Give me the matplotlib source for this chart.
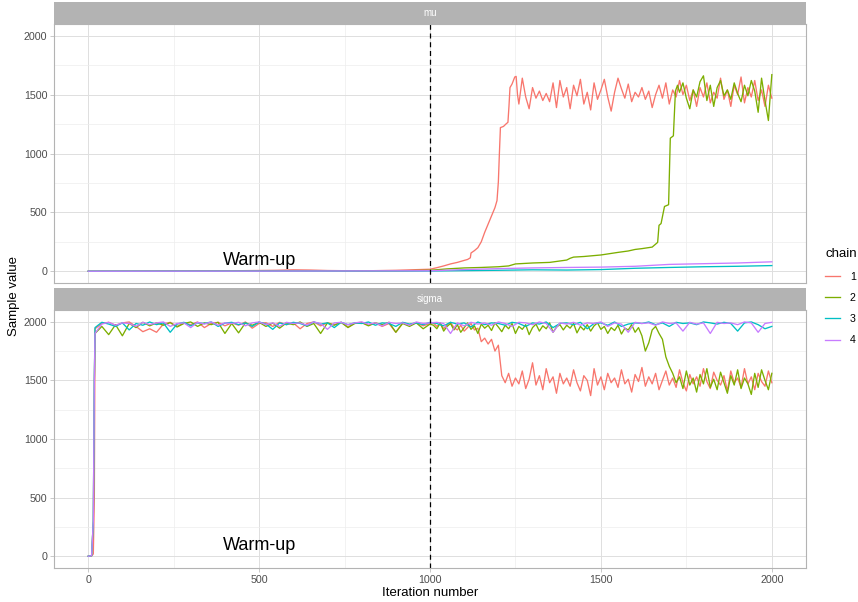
import numpy as np
import matplotlib
matplotlib.use('Agg')
import matplotlib.pyplot as plt
from matplotlib.patches import Rectangle

plt.rcParams['font.family'] = ['Liberation Sans', 'DejaVu Sans']

chains = ['1', '2', '3', '4']
colors = ['#F8766D', '#7CAE00', '#00BFC4', '#C77CFF']
params = ['mu', 'sigma']

# ---- mu traces ----
mu1_it = [0, 200, 400, 550, 600, 650, 700, 800, 900, 1000,
          1020, 1040, 1060, 1080, 1100, 1110, 1118, 1120, 1130, 1140,
          1150, 1160, 1170, 1180, 1190, 1196, 1200, 1203, 1206, 1215,
          1222, 1228, 1231, 1234, 1240, 1248, 1252, 1256]
mu1_head = [0, 1, 3, 8, 12, 10, 6, 3, 8, 17,
            30, 45, 62, 75, 92, 100, 114, 155, 175, 200,
            250, 330, 400, 470, 540, 600, 760, 1000, 1220, 1230,
            1250, 1265, 1400, 1560, 1590, 1650, 1655, 1500]
# every 10 iterations from 1260 to 2000
mu1_tail = [1420, 1640, 1480, 1380, 1560, 1470, 1530, 1450, 1510, 1440,
            1600, 1390, 1620, 1480, 1560, 1380, 1580, 1490, 1630, 1420,
            1520, 1370, 1600, 1460, 1540, 1630, 1480, 1360, 1520, 1640,
            1550, 1470, 1590, 1440, 1520, 1480, 1560, 1460, 1530, 1390,
            1500, 1580, 1470, 1600, 1420, 1540, 1480, 1620, 1500, 1580,
            1450, 1540, 1400, 1560, 1480, 1600, 1430, 1520, 1470, 1640,
            1460, 1540, 1400, 1580, 1500, 1650, 1430, 1560, 1480, 1620,
            1450, 1540, 1400, 1580, 1470]

mu2_it = [0, 500, 900, 1000, 1050, 1100, 1150, 1200, 1230, 1250,
          1300, 1350, 1400, 1410, 1420, 1450, 1500, 1550, 1580, 1600,
          1620, 1650, 1660, 1666, 1670, 1676, 1686, 1698, 1703, 1712,
          1718, 1724]
mu2_head = [0, 2, 3, 8, 20, 28, 32, 38, 45, 62,
            70, 75, 95, 110, 120, 125, 138, 160, 172, 185,
            192, 205, 230, 245, 390, 405, 550, 565, 1130, 1150,
            1530, 1580]
# every 10 iterations from 1730 to 2000
mu2_tail = [1520, 1600, 1470, 1380, 1540, 1480, 1610, 1660, 1450, 1580,
            1400, 1560, 1620, 1490, 1540, 1460, 1600, 1510, 1440, 1580,
            1490, 1620, 1530, 1350, 1640, 1450, 1280, 1670]

mu34_it = [0, 500, 1000, 1100, 1200, 1300, 1400, 1500, 1600, 1700, 1800, 1900, 2000]
mu3 = [0, 1, 2, 5, 8, 12, 10, 14, 25, 32, 38, 42, 48]
mu4 = [0, 1, 4, 14, 22, 28, 32, 35, 42, 58, 64, 70, 80]

# ---- sigma traces ----
ramp_it = [0, 10, 15, 18]
sig1_ramp = [0, 2, 20, 500]
sig_ramp = [0, 5, 300, 1500]

# chains 1 and 2: every 20 iterations 20..1000, then every 10 iterations 1010..2000
sig1 = [1940, 1985, 1995, 1970, 1990, 1998, 1960, 1915, 1940, 1910,
        1980, 1995, 1960, 1990, 1975, 1998, 1950, 1985, 1995, 1965,
        1990, 1970, 1998, 1945, 1985, 1992, 1960, 1995, 1975, 1990,
        1940, 1985, 1998, 1965, 1990, 1975, 1995, 1955, 1988, 1996,
        1970, 1990, 1960, 1985, 1910, 1992, 1975, 1990, 1965, 1985,
        # 1010..2000
        1990, 1960, 1985, 1940, 1975, 1995, 1950, 1930, 1970, 1920,
        1950, 1985, 1930, 1945, 1830, 1860, 1810, 1850, 1750, 1800,
        1540, 1480, 1560, 1450, 1520, 1470, 1580, 1430, 1510, 1650,
        1460, 1540, 1420, 1600, 1480, 1530, 1390, 1560, 1470, 1520,
        1450, 1590, 1480, 1410, 1540, 1500, 1370, 1600, 1460, 1530,
        1420, 1560, 1480, 1520, 1440, 1590, 1470, 1510, 1400, 1550,
        1490, 1610, 1450, 1530, 1470, 1560, 1420, 1500, 1580, 1460,
        1520, 1440, 1590, 1480, 1410, 1550, 1470, 1530, 1450, 1600,
        1490, 1430, 1570, 1500, 1460, 1540, 1410, 1580, 1480, 1520,
        1440, 1600, 1470, 1530, 1420, 1560, 1490, 1450, 1580, 1480]

sig2 = [1900, 1960, 1890, 1975, 1880, 1985, 1950, 1995, 1965, 1990,
        1970, 1992, 1955, 1985, 1998, 1960, 1990, 1975, 1995, 1900,
        1985, 1905, 1990, 1970, 1995, 1960, 1988, 1945, 1990, 1975,
        1998, 1960, 1985, 1900, 1990, 1970, 1995, 1950, 1985, 1992,
        1965, 1990, 1975, 1995, 1910, 1985, 1960, 1990, 1940, 1980,
        # 1010..2000
        1970, 1940, 1990, 1920, 1960, 1985, 1930, 1975, 1910, 1950,
        1990, 1935, 1965, 1900, 1980, 1945, 1970, 1925, 1990, 1955,
        1915, 1970, 1940, 1985, 1900, 1960, 1935, 1975, 1890, 1950,
        1980, 1920, 1965, 1940, 1990, 1910, 1955, 1975, 1930, 1970,
        1945, 1985, 1905, 1960, 1930, 1975, 1920, 1965, 1990, 1935,
        1960, 1900, 1950, 1925, 1970, 1895, 1945, 1930, 1975, 1910,
        1950, 1880, 1750, 1820, 1930, 1960, 1900, 1850, 1700, 1620,
        1560, 1480, 1530, 1430, 1580, 1460, 1520, 1400, 1550, 1470,
        1600, 1440, 1510, 1420, 1570, 1480, 1390, 1540, 1460, 1590,
        1430, 1520, 1470, 1380, 1560, 1440, 1590, 1500, 1420, 1560]

# chains 3 and 4: every 20 iterations 20..2000
sig3 = [1950, 1995, 1980, 1960, 1990, 1930, 1985, 1970, 1998, 1975,
        1990, 1910, 1980, 1995, 1965, 1990, 1985, 1998, 1960, 1988,
        1995, 1975, 1990, 1960, 1998, 1980, 1935, 1990, 1975, 1995,
        1985, 1965, 1998, 1980, 1990, 1950, 1995, 1975, 1990, 1985,
        1998, 1970, 1990, 1985, 1960, 1995, 1980, 1990, 1975, 1995,
        1985, 1965, 1995, 1980, 1990, 1955, 1998, 1975, 1990, 1985,
        1970, 1995, 1985, 1960, 1990, 1980, 1998, 1950, 1985, 1990,
        1975, 1995, 1940, 1985, 1990, 1970, 1998, 1960, 1980, 1990,
        1985, 1998, 1975, 1990, 1960, 1995, 1985, 1990, 1975, 1998,
        1990, 1980, 1995, 1985, 1920, 1990, 1998, 1975, 1940, 1960]

sig4 = [1900, 1980, 1995, 1970, 1990, 1985, 1960, 1995, 1975, 1990,
        1998, 1960, 1985, 1990, 1950, 1995, 1980, 1998, 1970, 1990,
        1985, 1995, 1965, 1990, 1998, 1975, 1990, 1960, 1995, 1985,
        1990, 1970, 1998, 1985, 1935, 1990, 1995, 1975, 1990, 1998,
        1980, 1990, 1965, 1995, 1985, 1990, 1970, 1998, 1985, 1990,
        1995, 1985, 1900, 1990, 1965, 1995, 1980, 1990, 1970, 1998,
        1985, 1960, 1995, 1990, 1975, 1998, 1985, 1910, 1990, 1980,
        1995, 1970, 1990, 1985, 1998, 1960, 1990, 1980, 1910, 1995,
        1985, 1990, 1970, 1998, 1985, 1990, 1920, 1995, 1980, 1990,
        1900, 1995, 1985, 1990, 1975, 1998, 1990, 1910, 1985, 1995]

# iteration positions
mu1_x = mu1_it + list(range(1260, 2001, 10))
mu2_x = mu2_it + list(range(1730, 2001, 10))
sig12_x = ramp_it + list(range(20, 1001, 20)) + list(range(1010, 2001, 10))
sig34_x = ramp_it + list(range(20, 2001, 20))

traces = {
    'mu': [(mu1_x, mu1_head + mu1_tail), (mu2_x, mu2_head + mu2_tail),
           (mu34_it, mu3), (mu34_it, mu4)],
    'sigma': [(sig12_x, sig1_ramp + sig1), (sig12_x, sig_ramp + sig2),
              (sig34_x, sig_ramp + sig3), (sig34_x, sig_ramp + sig4)],
}

W, H = 858, 602
fig = plt.figure(figsize=(W / 100, H / 100), dpi=100)


def box(x0, y0, x1, y1):
    return [x0 / W, 1 - y1 / H, (x1 - x0) / W, (y1 - y0) / H]


panels = {'mu': box(54, 24, 806, 283), 'sigma': box(54, 310, 806, 568)}
handles = []
for name in params:
    ax = fig.add_axes(panels[name])
    for (x, y), c in zip(traces[name], colors):
        ln, = ax.plot(x, y, color=c, lw=0.95)
        if name == 'mu':
            handles.append(ln)
    ax.axvline(1000, color='black', lw=0.9, linestyle=(0, (4, 3)))
    ax.text(500, 95, 'Warm-up', ha='center', va='center', fontsize=13)

    ax.set_xlim(-100, 2100)
    ax.set_ylim(-100, 2100)
    ax.set_xticks([0, 500, 1000, 1500, 2000])
    ax.set_xticks([250, 750, 1250, 1750], minor=True)
    ax.set_yticks([0, 500, 1000, 1500, 2000])
    ax.set_yticks([250, 750, 1250, 1750], minor=True)
    ax.grid(which='major', color='#DEDEDE', lw=0.7)
    ax.grid(which='minor', color='#EDEDED', lw=0.5)
    ax.set_axisbelow(True)
    for s in ax.spines.values():
        s.set_color('#B3B3B3')
        s.set_linewidth(0.8)
    ax.tick_params(which='major', length=2.7, width=0.5, color='#B3B3B3',
                   labelsize=7.7, labelcolor='#4D4D4D', pad=2)
    ax.tick_params(which='minor', length=0)
    if name == 'mu':
        ax.tick_params(axis='x', bottom=False, labelbottom=False)

    # facet strip
    h = 22 / 259
    ax.add_patch(Rectangle((0, 1), 1, h, transform=ax.transAxes,
                           facecolor='#B3B3B3', edgecolor='none', clip_on=False))
    ax.text(0.5, 1 + h / 2, name, transform=ax.transAxes, ha='center',
            va='center', color='white', fontsize=7)

fig.text(14 / W, 1 - 296 / H, 'Sample value', rotation=90, ha='center',
         va='center', fontsize=9.5)
fig.text(430 / W, 1 - 593 / H, 'Iteration number', ha='center', va='center',
         fontsize=9.5)

fig.legend(handles, chains, title='chain', loc='upper left',
           bbox_to_anchor=(820 / W, 1 - 243 / H), frameon=False, fontsize=7.7,
           title_fontsize=9.5, handlelength=1.4, handletextpad=0.9,
           labelspacing=1.05, alignment='left', borderpad=0)

fig.savefig('out.png', dpi=100)
